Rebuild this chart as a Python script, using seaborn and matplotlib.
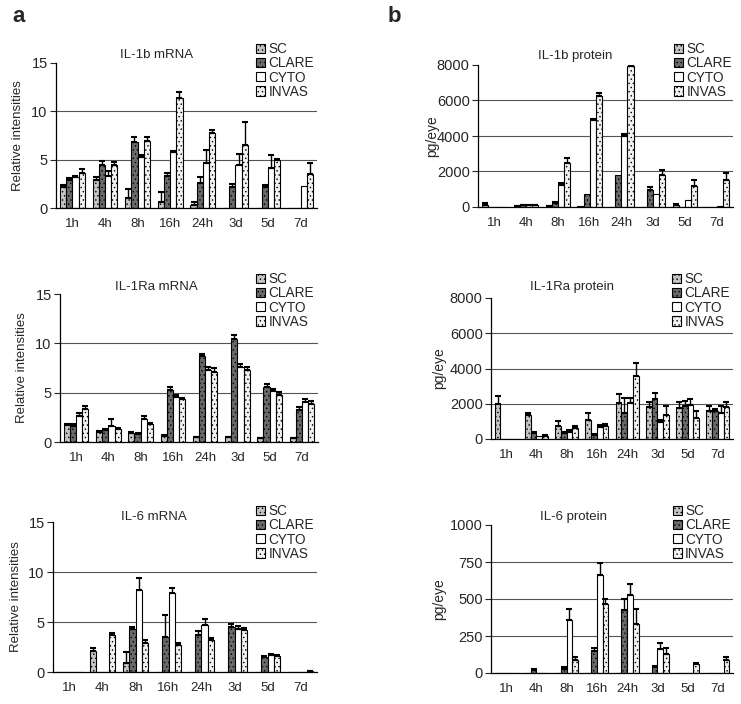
import numpy as np
import pandas as pd
import matplotlib
matplotlib.use("Agg")
import matplotlib.pyplot as plt
import seaborn as sns
from matplotlib.patches import Patch

sns.set_style("white")
plt.rcParams["font.family"] = ["Liberation Sans", "DejaVu Sans"]
plt.rcParams["hatch.linewidth"] = 0.5

times = ["1h", "4h", "8h", "16h", "24h", "3d", "5d", "7d"]
groups = ["SC", "CLARE", "CYTO", "INVAS"]

# ---- a: mRNA (relative intensities) ----
il1b_mrna_sc = [2.2, 2.9, 1.0, 0.6, 0.3, 0, 0, 0]
il1b_mrna_clare = [2.9, 4.4, 6.8, 3.3, 2.6, 2.2, 2.2, 0]
il1b_mrna_cyto = [3.2, 3.3, 5.3, 5.75, 4.7, 4.5, 4.1, 2.3]
il1b_mrna_invas = [3.6, 4.4, 6.9, 11.4, 7.8, 6.55, 5.0, 3.5]
il1b_mrna_sc_err = [0.2, 0.3, 1.0, 1.1, 0.3, 0, 0, 0]
il1b_mrna_clare_err = [0.2, 0.5, 0.5, 0.3, 0.6, 0.3, 0.2, 0]
il1b_mrna_cyto_err = [0.1, 0.5, 0.2, 0.15, 1.3, 1.1, 1.4, 0]
il1b_mrna_invas_err = [0.4, 0.4, 0.4, 0.6, 0.3, 2.3, 0.1, 1.15]

il1ra_mrna_sc = [1.7, 1.0, 0.9, 0.6, 0.5, 0.5, 0.4, 0.4]
il1ra_mrna_clare = [1.6, 1.2, 0.8, 5.3, 8.7, 10.4, 5.6, 3.2]
il1ra_mrna_cyto = [2.6, 1.6, 2.3, 4.6, 7.3, 7.6, 5.2, 4.05]
il1ra_mrna_invas = [3.3, 1.3, 1.8, 4.4, 7.1, 7.3, 4.8, 3.85]
il1ra_mrna_sc_err = [0.1, 0.1, 0.1, 0.1, 0.05, 0.05, 0.05, 0.05]
il1ra_mrna_clare_err = [0.2, 0.1, 0.1, 0.3, 0.2, 0.4, 0.3, 0.3]
il1ra_mrna_cyto_err = [0.3, 0.7, 0.3, 0.2, 0.3, 0.3, 0.2, 0.3]
il1ra_mrna_invas_err = [0.35, 0.1, 0.1, 0.1, 0.4, 0.3, 0.3, 0.3]

il6_mrna_sc = [0.05, 2.1, 0.9, 0, 0, 0, 0, 0]
il6_mrna_clare = [0.05, 0, 4.3, 3.5, 3.7, 4.5, 1.5, 0]
il6_mrna_cyto = [0.05, 0, 8.2, 7.9, 4.7, 4.3, 1.7, 0]
il6_mrna_invas = [0.05, 3.7, 2.9, 2.7, 3.2, 4.2, 1.6, 0.1]
il6_mrna_sc_err = [0, 0.3, 1.1, 0, 0, 0, 0, 0]
il6_mrna_clare_err = [0, 0, 0.2, 2.2, 0.4, 0.3, 0.1, 0]
il6_mrna_cyto_err = [0, 0, 1.2, 0.5, 0.6, 0.3, 0.1, 0]
il6_mrna_invas_err = [0, 0.2, 0.3, 0.2, 0.2, 0.2, 0.1, 0.05]

# ---- b: protein (pg/eye) ----
il1b_prot_sc = [100, 50, 50, 50, 0, 0, 100, 0]
il1b_prot_clare = [0, 100, 200, 750, 1820, 970, 0, 0]
il1b_prot_cyto = [0, 100, 1250, 4900, 4000, 750, 400, 50]
il1b_prot_invas = [0, 100, 2500, 6250, 7950, 1820, 1160, 1530]
il1b_prot_sc_err = [100, 30, 30, 0, 0, 0, 50, 0]
il1b_prot_clare_err = [0, 20, 100, 0, 0, 130, 0, 0]
il1b_prot_cyto_err = [0, 20, 130, 60, 100, 0, 0, 0]
il1b_prot_invas_err = [0, 20, 250, 190, 50, 280, 370, 370]

il1ra_prot_sc = [1990, 1360, 740, 1080, 2020, 1800, 1740, 1610]
il1ra_prot_clare = [0, 350, 350, 200, 1500, 2250, 1880, 1610]
il1ra_prot_cyto = [0, 150, 400, 700, 2020, 980, 1930, 1460]
il1ra_prot_invas = [0, 150, 650, 750, 3580, 1360, 1170, 1800]
il1ra_prot_sc_err = [450, 140, 260, 420, 530, 300, 360, 290]
il1ra_prot_clare_err = [0, 50, 50, 100, 810, 350, 250, 100]
il1ra_prot_cyto_err = [0, 0, 100, 100, 290, 80, 320, 420]
il1ra_prot_invas_err = [0, 50, 100, 100, 760, 520, 430, 280]

il6_prot_sc = [0, 0, 0, 0, 0, 0, 0, 0]
il6_prot_clare = [0, 20, 30, 150, 425, 40, 0, 0]
il6_prot_cyto = [0, 0, 360, 662, 527, 160, 0, 0]
il6_prot_invas = [0, 0, 90, 466, 330, 130, 60, 90]
il6_prot_sc_err = [0, 0, 0, 0, 0, 0, 0, 0]
il6_prot_clare_err = [0, 10, 10, 20, 73, 10, 0, 0]
il6_prot_cyto_err = [0, 0, 72, 78, 74, 40, 0, 0]
il6_prot_invas_err = [0, 0, 15, 32, 100, 40, 10, 20]

colors = {"SC": "#c4c4c4", "CLARE": "#6a6a6a", "CYTO": "#ffffff", "INVAS": "#f2f2f2"}
hatches = {"SC": "....", "CLARE": "....", "CYTO": "", "INVAS": "...."}

W, H = 741, 704
fig = plt.figure(figsize=(W / 100, H / 100), dpi=100)


def add_ax(x0, x1, ytop, ybot):
    return fig.add_axes([x0 / W, 1 - ybot / H, (x1 - x0) / W, (ybot - ytop) / H])


panels = [
    dict(box=(56, 317, 63, 208), vals=[il1b_mrna_sc, il1b_mrna_clare, il1b_mrna_cyto, il1b_mrna_invas],
         errs=[il1b_mrna_sc_err, il1b_mrna_clare_err, il1b_mrna_cyto_err, il1b_mrna_invas_err],
         ymax=15, ticks=[0, 5, 10, 15], title="IL-1b mRNA", tpos=(157, 55), ylabel="Relative intensities",
         ylx=18, leg=(256, 42)),
    dict(box=(60, 318, 294, 442), vals=[il1ra_mrna_sc, il1ra_mrna_clare, il1ra_mrna_cyto, il1ra_mrna_invas],
         errs=[il1ra_mrna_sc_err, il1ra_mrna_clare_err, il1ra_mrna_cyto_err, il1ra_mrna_invas_err],
         ymax=15, ticks=[0, 5, 10, 15], title="IL-1Ra mRNA", tpos=(156, 287), ylabel="Relative intensities",
         ylx=22, leg=(256, 272)),
    dict(box=(53, 317, 522, 672), vals=[il6_mrna_sc, il6_mrna_clare, il6_mrna_cyto, il6_mrna_invas],
         errs=[il6_mrna_sc_err, il6_mrna_clare_err, il6_mrna_cyto_err, il6_mrna_invas_err],
         ymax=15, ticks=[0, 5, 10, 15], title="IL-6 mRNA", tpos=(154, 517), ylabel="Relative intensities",
         ylx=16, leg=(256, 504)),
    dict(box=(478, 733, 65, 207), vals=[il1b_prot_sc, il1b_prot_clare, il1b_prot_cyto, il1b_prot_invas],
         errs=[il1b_prot_sc_err, il1b_prot_clare_err, il1b_prot_cyto_err, il1b_prot_invas_err],
         ymax=8000, ticks=[0, 2000, 4000, 6000, 8000], title="IL-1b protein", tpos=(575, 56), ylabel="pg/eye",
         ylx=432, leg=(674, 42)),
    dict(box=(491, 733, 298, 439), vals=[il1ra_prot_sc, il1ra_prot_clare, il1ra_prot_cyto, il1ra_prot_invas],
         errs=[il1ra_prot_sc_err, il1ra_prot_clare_err, il1ra_prot_cyto_err, il1ra_prot_invas_err],
         ymax=8000, ticks=[0, 2000, 4000, 6000, 8000], title="IL-1Ra protein", tpos=(572, 287), ylabel="pg/eye",
         ylx=439, leg=(672, 272)),
    dict(box=(491, 733, 525, 673), vals=[il6_prot_sc, il6_prot_clare, il6_prot_cyto, il6_prot_invas],
         errs=[il6_prot_sc_err, il6_prot_clare_err, il6_prot_cyto_err, il6_prot_invas_err],
         ymax=1000, ticks=[0, 250, 500, 750, 1000], title="IL-6 protein", tpos=(573, 517), ylabel="pg/eye",
         ylx=439, leg=(673, 504)),
]

for p in panels:
    ax = add_ax(*p["box"])
    rows = []
    for g, v in zip(groups, p["vals"]):
        for t, val in zip(times, v):
            rows.append({"time": t, "group": g, "value": val})
    df = pd.DataFrame(rows)
    sns.barplot(data=df, x="time", y="value", hue="group", order=times, hue_order=groups,
                palette=colors, saturation=1, edgecolor="black", linewidth=0.8, width=0.76,
                errorbar=None, legend=False, ax=ax)
    for cont, g, errs in zip(ax.containers, groups, p["errs"]):
        for bar, e in zip(cont, errs):
            bar.set_hatch(hatches[g])
            if e > 0:
                ax.errorbar(bar.get_x() + bar.get_width() / 2, bar.get_height(), yerr=[[0], [e]],
                            fmt="none", ecolor="black", elinewidth=1.0, capsize=2.4, capthick=1.5)
    ax.set_ylim(0, p["ymax"])
    ax.set_xlim(-0.5, 7.5)
    ax.set_yticks(p["ticks"])
    ax.set_yticklabels([str(t) for t in p["ticks"]], fontsize=10.5)
    for t in p["ticks"][1:-1]:
        ax.axhline(t, color="#555555", lw=0.8, zorder=0)
    ax.set_xlabel("")
    ax.set_ylabel("")
    ax.tick_params(axis="x", length=0, labelsize=9.5, pad=7)
    ax.tick_params(axis="y", length=4, width=0.8, direction="out", left=True, pad=2)
    for s in ["top", "right"]:
        ax.spines[s].set_visible(False)
    for s in ["left", "bottom"]:
        ax.spines[s].set_color("black")
        ax.spines[s].set_linewidth(0.9)
    fig.text(p["tpos"][0] / W, 1 - p["tpos"][1] / H, p["title"], ha="center", va="center", fontsize=9.5)
    x0, x1, yt, yb = p["box"]
    fig.text(p["ylx"] / W, 1 - ((yt + yb) / 2) / H, p["ylabel"], rotation=90, ha="center",
             va="center", fontsize=10 if p["ylabel"] == "pg/eye" else 9.5)
    handles = [Patch(facecolor=colors[g], edgecolor="black", hatch=hatches[g], lw=0.8) for g in groups]
    fig.legend(handles, groups, loc="upper left", bbox_to_anchor=(p["leg"][0] / W, 1 - p["leg"][1] / H),
               frameon=False, fontsize=9.8, handlelength=0.65, handleheight=0.65, handletextpad=0.25,
               labelspacing=0.02, borderaxespad=0, borderpad=0)

fig.text(12 / W, 1 - 16 / H, "a", fontsize=16, fontweight="bold", ha="left", va="center")
fig.text(388 / W, 1 - 16 / H, "b", fontsize=16, fontweight="bold", ha="left", va="center")

fig.savefig("out.png", dpi=100)
